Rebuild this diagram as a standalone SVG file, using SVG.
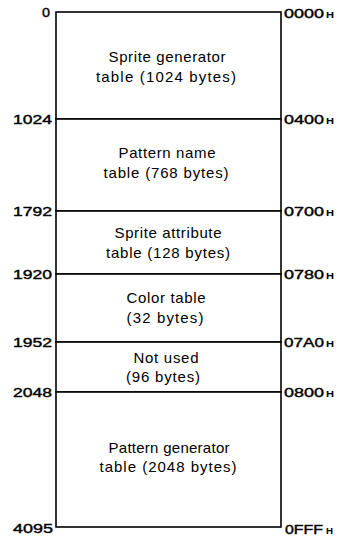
<svg xmlns="http://www.w3.org/2000/svg" width="339" height="539" viewBox="0 0 339 539">
<style>
.sec{fill:#fff;stroke:#000;stroke-width:1.6}
.t{font-family:"Liberation Sans",Arial,sans-serif;font-size:15px;fill:#000;text-anchor:middle}
.l{font-family:"Liberation Sans",Arial,sans-serif;font-size:13px;fill:#000;stroke:#000;stroke-width:0.4;text-anchor:end}
.r{font-family:"Liberation Sans",Arial,sans-serif;font-size:13px;fill:#000;stroke:#000;stroke-width:0.4}
.h{font-family:"Liberation Sans",Arial,sans-serif;font-size:9px;font-weight:bold;fill:#000}
</style>
<rect width="339" height="539" fill="#fff"/>
<g id="sprite-generator">
<rect class="sec" x="56" y="12" width="225" height="107"/>
<text class="t" x="167" y="62" textLength="117" lengthAdjust="spacing">Sprite generator</text>
<text class="t" x="166" y="82" textLength="140" lengthAdjust="spacing">table (1024 bytes)</text>
</g>
<g id="pattern-name">
<rect class="sec" x="56" y="119" width="225" height="92"/>
<text class="t" x="167" y="158" textLength="97" lengthAdjust="spacing">Pattern name</text>
<text class="t" x="166" y="178" textLength="125" lengthAdjust="spacing">table (768 bytes)</text>
</g>
<g id="sprite-attribute">
<rect class="sec" x="56" y="211" width="225" height="63"/>
<text class="t" x="168" y="238" textLength="107" lengthAdjust="spacing">Sprite attribute</text>
<text class="t" x="168" y="258" textLength="124" lengthAdjust="spacing">table (128 bytes)</text>
</g>
<g id="color-table">
<rect class="sec" x="56" y="274" width="225" height="68"/>
<text class="t" x="166" y="303" textLength="79" lengthAdjust="spacing">Color table</text>
<text class="t" x="165" y="323" textLength="77" lengthAdjust="spacing">(32 bytes)</text>
</g>
<g id="not-used">
<rect class="sec" x="56" y="342" width="225" height="50"/>
<text class="t" x="166" y="363" textLength="65" lengthAdjust="spacing">Not used</text>
<text class="t" x="163" y="382" textLength="74" lengthAdjust="spacing">(96 bytes)</text>
</g>
<g id="pattern-generator">
<rect class="sec" x="56" y="392" width="225" height="135"/>
<text class="t" x="169" y="453" textLength="121" lengthAdjust="spacing">Pattern generator</text>
<text class="t" x="168" y="472" textLength="137" lengthAdjust="spacing">table (2048 bytes)</text>
</g>
<g id="decimal-addresses">
<text class="l" x="50" y="17" textLength="8" lengthAdjust="spacingAndGlyphs">0</text>
<text class="l" x="52" y="124" textLength="39" lengthAdjust="spacingAndGlyphs">1024</text>
<text class="l" x="52" y="216" textLength="39" lengthAdjust="spacingAndGlyphs">1792</text>
<text class="l" x="52" y="279" textLength="39" lengthAdjust="spacingAndGlyphs">1920</text>
<text class="l" x="52" y="347" textLength="39" lengthAdjust="spacingAndGlyphs">1952</text>
<text class="l" x="52" y="397" textLength="39" lengthAdjust="spacingAndGlyphs">2048</text>
<text class="l" x="53" y="533" textLength="40" lengthAdjust="spacingAndGlyphs">4095</text>
</g>
<g id="hex-addresses">
<text class="r" x="284" y="18" textLength="40" lengthAdjust="spacingAndGlyphs">0000</text><text class="h" x="326" y="18" textLength="8" lengthAdjust="spacingAndGlyphs">H</text>
<text class="r" x="284" y="124" textLength="40" lengthAdjust="spacingAndGlyphs">0400</text><text class="h" x="326" y="124" textLength="8" lengthAdjust="spacingAndGlyphs">H</text>
<text class="r" x="284" y="216" textLength="40" lengthAdjust="spacingAndGlyphs">0700</text><text class="h" x="326" y="216" textLength="8" lengthAdjust="spacingAndGlyphs">H</text>
<text class="r" x="284" y="279" textLength="40" lengthAdjust="spacingAndGlyphs">0780</text><text class="h" x="326" y="279" textLength="8" lengthAdjust="spacingAndGlyphs">H</text>
<text class="r" x="284" y="347" textLength="40" lengthAdjust="spacingAndGlyphs">07A0</text><text class="h" x="326" y="347" textLength="8" lengthAdjust="spacingAndGlyphs">H</text>
<text class="r" x="284" y="397" textLength="40" lengthAdjust="spacingAndGlyphs">0800</text><text class="h" x="326" y="397" textLength="8" lengthAdjust="spacingAndGlyphs">H</text>
<text class="r" x="285" y="534" textLength="38" lengthAdjust="spacingAndGlyphs">0FFF</text><text class="h" x="326" y="534" textLength="7" lengthAdjust="spacingAndGlyphs">H</text>
</g>
<g id="connectors"></g>
</svg>
